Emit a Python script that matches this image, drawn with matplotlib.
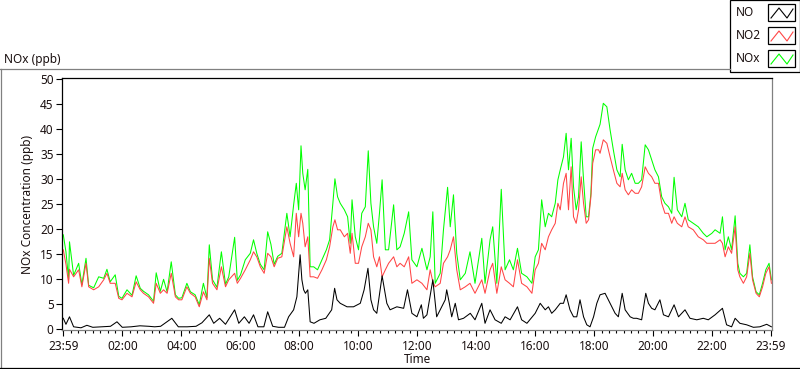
import numpy as np
import matplotlib.pyplot as plt
from matplotlib.lines import Line2D
from matplotlib.patches import Rectangle

plt.rcParams['font.family'] = ['Noto Sans', 'DejaVu Sans']

# time in hours after 23:59, values in ppb
t_nox = [0.0, 0.09, 0.18, 0.21, 0.35, 0.52, 0.63, 0.77, 0.86, 1.03, 1.2, 1.37, 1.48, 1.59, 1.76, 1.88,
         1.99, 2.16, 2.33, 2.47, 2.61, 2.72, 2.89, 3.06, 3.15, 3.29, 3.4, 3.52, 3.66, 3.8, 3.91, 4.02,
         4.19, 4.31, 4.47, 4.61, 4.75, 4.87, 4.95, 5.06, 5.21, 5.36, 5.5, 5.61, 5.81, 5.9, 6.01, 6.17,
         6.34, 6.45, 6.56, 6.68, 6.81, 6.93, 7.04, 7.15, 7.27, 7.41, 7.58, 7.69, 7.81, 7.9, 7.98, 8.06,
         8.12, 8.2, 8.29, 8.37, 8.49, 8.62, 8.77, 8.92, 9.03, 9.14, 9.21, 9.3, 9.39, 9.53, 9.64, 9.73,
         9.79, 9.9, 10.01, 10.12, 10.24, 10.34, 10.43, 10.52, 10.63, 10.72, 10.81, 10.92, 11.03, 11.2,
         11.31, 11.42, 11.56, 11.71, 11.82, 11.99, 12.16, 12.33, 12.44, 12.53, 12.61, 12.78, 12.89,
         13.03, 13.12, 13.23, 13.34, 13.46, 13.63, 13.79, 13.96, 14.19, 14.3, 14.47, 14.56, 14.7,
         14.85, 14.98, 15.13, 15.26, 15.4, 15.54, 15.72, 15.89, 16.0, 16.11, 16.22, 16.34, 16.45,
         16.56, 16.68, 16.77, 16.85, 16.96, 17.05, 17.13, 17.22, 17.3, 17.39, 17.47, 17.56, 17.64,
         17.73, 17.81, 17.89, 17.95, 18.05, 18.15, 18.2, 18.31, 18.43, 18.54, 18.65, 18.77, 18.88,
         18.95, 19.05, 19.16, 19.27, 19.39, 19.5, 19.61, 19.73, 19.84, 19.95, 20.06, 20.18, 20.29,
         20.4, 20.52, 20.63, 20.71, 20.82, 20.97, 21.08, 21.19, 21.36, 21.53, 21.7, 21.82, 21.99,
         22.1, 22.27, 22.35, 22.44, 22.55, 22.66, 22.78, 22.87, 22.94, 23.06, 23.17, 23.28, 23.37,
         23.49, 23.6, 23.71, 23.82, 23.93, 24.01]
no2 = [15.9, 13.0, 9.2, 12.0, 10.5, 11.9, 8.5, 13.2, 8.5, 7.9, 8.5, 9.9, 11.2, 9.2, 9.2, 6.2,
       5.9, 7.2, 6.5, 9.5, 7.9, 7.2, 6.5, 5.2, 9.2, 7.2, 7.9, 7.2, 11.2, 6.5, 5.9, 5.9,
       8.5, 7.2, 6.5, 4.5, 7.5, 5.9, 14.2, 9.2, 7.9, 12.5, 8.5, 9.9, 11.2, 9.2, 10.2, 11.9,
       13.9, 15.5, 14.5, 12.5, 11.2, 15.2, 14.5, 12.5, 14.2, 14.5, 20.5, 17.2, 14.5, 23.2, 18.5, 23.2,
       21.2, 16.5, 18.5, 10.5, 10.5, 10.2, 11.9, 13.9, 16.5, 20.5, 21.9, 19.9, 19.9, 18.5, 19.2, 15.2,
       19.2, 13.2, 13.2, 16.5, 18.5, 21.2, 19.9, 14.5, 12.5, 14.5, 10.5, 11.9, 13.2, 14.5,
       12.5, 13.2, 12.5, 14.5, 9.2, 9.9, 9.2, 7.9, 11.9, 9.5, 8.5, 9.2, 13.2,
       14.5, 15.9, 18.5, 11.9, 7.9, 8.5, 9.2, 7.2, 9.9, 7.2, 11.9, 13.2, 7.2,
       12.5, 9.9, 9.2, 8.5, 13.9, 9.2, 8.5, 7.2, 11.9, 13.2, 17.2, 15.9, 18.5,
       19.9, 21.2, 25.2, 23.9, 29.2, 31.2, 23.9, 32.5, 22.5, 21.2, 23.9, 30.5, 25.2,
       21.2, 21.9, 26.5, 33.2, 35.9, 35.9, 35.2, 37.9, 37.2, 34.5, 31.9, 29.2, 28.5,
       31.2, 27.9, 26.9, 27.9, 27.2, 27.2, 28.5, 32.5, 31.2, 30.5, 29.2, 29.2, 25.2,
       23.2, 23.2, 21.2, 22.5, 21.2, 20.5, 22.5, 20.5, 19.9, 18.5, 17.9, 17.2, 17.2,
       17.2, 17.9, 17.2, 14.5, 16.5, 15.2, 20.5, 11.9, 10.5, 9.2, 10.5, 15.2, 9.9,
       7.2, 6.5, 8.5, 11.2, 12.5, 9.2]
nox = [18.9, 15.5, 10.0, 17.5, 10.8, 13.2, 8.9, 14.2, 8.8, 8.3, 10.5, 10.2, 12.0, 9.5, 10.9, 6.6,
       6.2, 7.9, 6.8, 10.7, 8.2, 7.6, 6.9, 5.6, 11.3, 7.6, 10.0, 7.5, 13.5, 6.9, 6.2, 6.3,
       9.2, 7.5, 6.9, 4.9, 9.2, 6.3, 16.9, 9.9, 8.4, 15.5, 9.0, 10.5, 18.4, 9.8, 10.9, 13.9,
       15.2, 17.9, 15.2, 13.0, 11.9, 19.5, 17.0, 13.0, 14.6, 15.2, 23.2, 18.5, 24.9, 29.2, 23.9, 36.7,
       31.2, 27.9, 32.0, 12.5, 12.5, 11.9, 13.9, 15.9, 17.9, 25.2, 30.1, 26.5, 25.2, 23.9, 22.5, 17.2,
       25.9, 18.5, 15.9, 23.2, 24.5, 35.7, 25.2, 20.5, 17.2, 23.2, 29.9, 15.9, 15.9, 24.9,
       15.9, 16.5, 19.2, 23.5, 13.9, 12.5, 16.2, 11.9, 14.5, 23.5, 9.2, 11.2, 19.9,
       28.4, 20.5, 26.9, 15.2, 9.9, 11.2, 15.5, 9.2, 18.2, 9.2, 17.9, 20.5, 9.2,
       28.0, 11.9, 13.9, 11.9, 16.2, 11.2, 10.5, 9.2, 14.5, 15.9, 25.9, 20.5, 23.2,
       22.5, 25.2, 29.9, 31.9, 34.5, 39.2, 31.9, 38.2, 28.5, 23.9, 26.5, 37.5, 29.9,
       22.5, 22.5, 27.2, 36.2, 38.5, 40.2, 41.0, 45.2, 44.5, 39.9, 35.9, 31.9, 30.5,
       37.0, 31.9, 29.9, 31.2, 29.2, 29.2, 29.9, 36.9, 35.9, 33.9, 31.9, 30.5, 26.5,
       25.2, 24.5, 23.2, 30.4, 23.9, 22.5, 25.2, 21.9, 21.2, 20.5, 19.2, 18.5, 19.2,
       19.9, 19.2, 22.5, 15.9, 18.5, 15.9, 22.7, 13.2, 11.2, 10.5, 11.2, 16.9, 10.5,
       7.5, 6.9, 9.2, 11.9, 13.2, 9.9]

t_no = [0.0, 0.09, 0.21, 0.35, 0.6, 0.8, 1.0, 1.3, 1.6, 1.82, 2.0, 2.3, 2.6, 2.9, 3.1, 3.3, 3.68,
        3.9, 4.2, 4.5, 4.7, 4.95, 5.1, 5.3, 5.5, 5.81, 5.95, 6.14, 6.3, 6.45, 6.6, 6.8, 6.93, 7.1,
        7.3, 7.5, 7.64, 7.81, 7.92, 8.03, 8.09, 8.15, 8.21, 8.29, 8.37, 8.5, 8.7, 8.9, 9.1, 9.2,
        9.28, 9.39, 9.62, 9.84, 10.07, 10.2, 10.33, 10.43, 10.52, 10.63, 10.81, 10.97, 11.08,
        11.31, 11.54, 11.67, 11.82, 11.99, 12.14, 12.21, 12.33, 12.53, 12.66, 12.78, 12.95, 13.0,
        13.09, 13.17, 13.29, 13.4, 13.57, 13.8, 13.96, 14.19, 14.3, 14.47, 14.64, 14.85, 14.98,
        15.15, 15.4, 15.54, 15.72, 16.0, 16.17, 16.34, 16.45, 16.56, 16.68, 16.85, 16.96, 17.05,
        17.18, 17.3, 17.41, 17.52, 17.64, 17.75, 17.86, 17.98, 18.09, 18.2, 18.37, 18.48, 18.6,
        18.71, 18.82, 18.95, 19.05, 19.22, 19.33, 19.44, 19.61, 19.75, 19.84, 19.95, 20.06,
        20.23, 20.35, 20.52, 20.71, 20.86, 21.08, 21.25, 21.48, 21.7, 21.87, 22.1, 22.35,
        22.49, 22.66, 22.78, 22.94, 23.17, 23.4, 23.62, 23.85, 24.01]
no = [2.2, 1.0, 2.5, 0.5, 0.3, 0.8, 0.4, 0.5, 0.6, 1.5, 0.4, 0.5, 0.7, 0.6, 0.5, 0.6, 2.2,
      0.5, 0.5, 0.6, 1.3, 2.9, 1.2, 2.2, 1.0, 3.9, 1.2, 2.5, 1.2, 2.9, 0.5, 0.5, 3.5, 0.6,
      0.4, 0.4, 2.5, 3.9, 6.5, 14.9, 9.9, 7.9, 7.2, 7.9, 1.5, 1.2, 1.9, 2.2, 3.9, 8.2,
      5.9, 5.2, 4.5, 4.5, 5.2, 7.9, 12.2, 5.9, 3.9, 3.2, 10.7, 5.2, 3.9,
      4.5, 4.2, 7.9, 3.2, 2.5, 4.9, 2.2, 2.9, 9.9, 2.5, 3.9, 5.9, 7.9,
      5.2, 2.5, 5.2, 1.9, 2.2, 3.2, 1.9, 5.2, 1.2, 3.9, 1.9, 1.2, 2.5,
      1.9, 4.5, 1.9, 1.2, 3.2, 5.2, 3.9, 4.5, 3.2, 3.9, 5.2, 5.2, 6.9,
      3.9, 2.5, 2.5, 5.9, 2.5, 0.9, 0.5, 2.5, 5.2, 6.9, 7.2, 5.9, 4.5,
      3.2, 2.5, 7.2, 3.9, 2.5, 2.2, 2.2, 1.9, 7.2, 5.2, 4.2, 3.9,
      5.9, 2.9, 2.5, 4.9, 2.5, 3.9, 2.2, 1.9, 2.2, 1.9, 2.9, 4.2,
      0.9, 0.5, 2.2, 1.2, 0.9, 0.4, 0.5, 1.0, 0.5]

xtick_pos = [0, 2, 4, 6, 8, 10, 12, 14, 16, 18, 20, 22, 24]
xtick_labels = ['23:59', '02:00', '04:00', '06:00', '08:00', '10:00', '12:00',
                '14:00', '16:00', '18:00', '20:00', '22:00', '23:59']

W, H = 800, 369
txt = '#1a1010'


def fx(x):
    return x / W


def fy(y):
    return 1 - y / H


fig = plt.figure(figsize=(8, 3.69), dpi=100)
ax = fig.add_axes([fx(62), fy(330), (772 - 62) / W, (330 - 78) / H])

ax.plot(t_nox, nox, color='#00ff00', lw=0.75)
ax.plot(t_nox, no2, color='#ff4545', lw=0.75)
ax.plot(t_no, no, color='black', lw=0.75)

ax.set_xlim(-0.044, 24.03)
ax.set_ylim(-0.14, 50.26)
ax.set_yticks(np.arange(0, 51, 5))
ax.set_xticks(xtick_pos)
ax.set_xticklabels(xtick_labels)
ax.set_xticks(np.arange(0, 24.01, 0.25), minor=True)
ax.tick_params(axis='both', which='major', direction='out', length=4, width=0.8,
               labelsize=8.5, labelcolor=txt, pad=2)
ax.tick_params(axis='x', which='major', pad=3)
ax.tick_params(axis='x', which='minor', direction='out', length=2.5, width=0.8)
ax.set_ylabel('NOx Concentration (ppb)', fontsize=8.5, color=txt, labelpad=4)
ax.set_xlabel('Time', fontsize=8.5, color=txt, labelpad=0)
for s in ['left', 'top']:
    ax.spines[s].set_color('black')
for s in ['right', 'bottom']:
    ax.spines[s].set_color('#808080')
for s in ax.spines.values():
    s.set_linewidth(0.9)

# outer panel frame
fig.add_artist(Line2D([fx(0), fx(730)], [fy(69), fy(69)], color='#808080', lw=0.9))
fig.add_artist(Line2D([fx(0.5), fx(0.5)], [fy(69), fy(368)], color='#808080', lw=0.9))
fig.add_artist(Line2D([fx(0), fx(800)], [fy(368), fy(368)], color='black', lw=0.9))
fig.text(fx(4), fy(60), 'NOx (ppb)', fontsize=8.5, color=txt, va='center', ha='left')

# legend box
fig.add_artist(Rectangle((fx(730), fy(72)), (800 - 730) / W, 72 / H, transform=fig.transFigure,
                         facecolor='white', edgecolor='black', lw=0.9))
leg_names = ['NO', 'NO2', 'NOx']
leg_colors = ['black', '#ff4545', '#00ff00']
leg_tops = [4, 27, 50]
for name, c, top in zip(leg_names, leg_colors, leg_tops):
    fig.text(fx(736), fy(top + 8.5), name, fontsize=8.5, color=txt, va='center', ha='left')
    fig.add_artist(Rectangle((fx(768), fy(top + 17)), 27 / W, 17 / H, transform=fig.transFigure,
                             facecolor='white', edgecolor='black', lw=0.9))
    zx = [771, 779, 787, 793]
    zy = [top + 14, top + 4, top + 14, top + 5]
    fig.add_artist(Line2D([fx(v) for v in zx], [fy(v) for v in zy], color=c, lw=0.8))

fig.savefig('out.png', dpi=100)
